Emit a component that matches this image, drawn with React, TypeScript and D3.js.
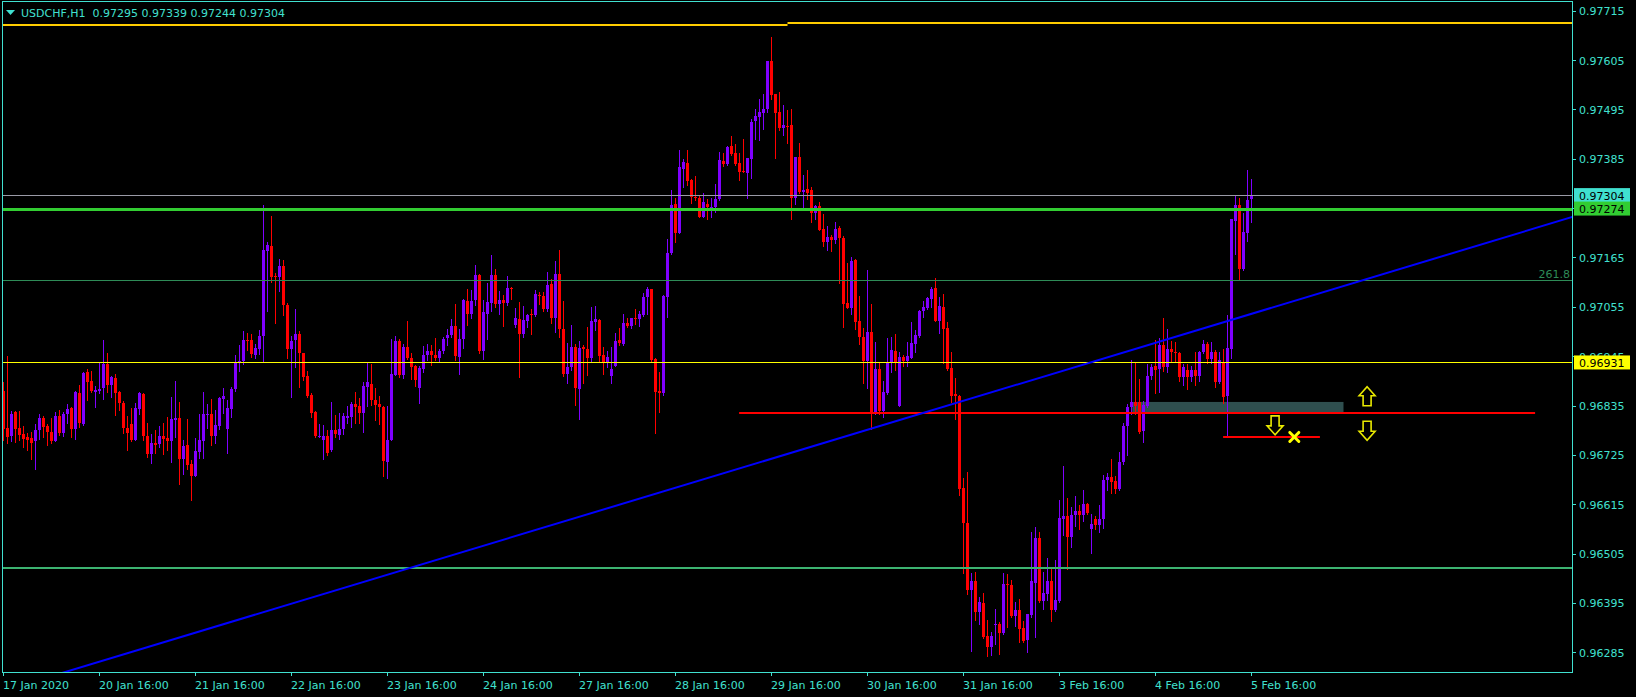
import React from "react";
import * as d3 from "d3";

// ---------- DATA ----------
const SYMBOL = "USDCHF,H1";
const HEADER_OHLC = ["0.97295", "0.97339", "0.97244", "0.97304"];

// hourly candles [open, high, low, close], first bar = 17 Jan 2020 16:00
const candles: [number, number, number, number][] = [
  [0.96867,0.96888,0.96758,0.96782],[0.96785,0.96945,0.96751,0.96765],[0.96768,0.96823,0.96757,0.96817],[0.96820,0.96823,0.96754,0.96783],
  [0.96785,0.96823,0.96759,0.96770],[0.96771,0.96789,0.96743,0.96761],[0.96764,0.96773,0.96737,0.96759],[0.96762,0.96775,0.96715,0.96751],
  [0.96755,0.96794,0.96694,0.96780],[0.96780,0.96817,0.96761,0.96807],[0.96807,0.96811,0.96764,0.96788],[0.96789,0.96794,0.96748,0.96777],
  [0.96777,0.96807,0.96752,0.96757],[0.96757,0.96820,0.96755,0.96811],[0.96811,0.96825,0.96770,0.96774],[0.96773,0.96820,0.96768,0.96817],
  [0.96817,0.96838,0.96797,0.96827],[0.96829,0.96831,0.96764,0.96783],[0.96783,0.96867,0.96761,0.96865],[0.96862,0.96881,0.96788,0.96795],
  [0.96794,0.96910,0.96792,0.96907],[0.96910,0.96916,0.96847,0.96888],[0.96890,0.96911,0.96865,0.96868],[0.96866,0.96878,0.96832,0.96870],
  [0.96868,0.96930,0.96862,0.96872],[0.96873,0.96981,0.96849,0.96927],[0.96927,0.96952,0.96865,0.96880],[0.96880,0.96900,0.96855,0.96898],
  [0.96896,0.96905,0.96814,0.96863],[0.96866,0.96867,0.96826,0.96840],[0.96840,0.96844,0.96774,0.96785],[0.96786,0.96811,0.96737,0.96774],
  [0.96794,0.96829,0.96755,0.96759],[0.96759,0.96840,0.96758,0.96829],[0.96828,0.96865,0.96817,0.96862],[0.96861,0.96862,0.96759,0.96768],
  [0.96768,0.96795,0.96721,0.96728],[0.96728,0.96771,0.96708,0.96751],[0.96752,0.96780,0.96730,0.96748],[0.96749,0.96789,0.96742,0.96768],
  [0.96768,0.96795,0.96728,0.96761],[0.96762,0.96809,0.96737,0.96755],[0.96755,0.96853,0.96710,0.96804],[0.96803,0.96889,0.96765,0.96807],
  [0.96807,0.96843,0.96661,0.96715],[0.96715,0.96758,0.96682,0.96745],[0.96746,0.96804,0.96694,0.96703],[0.96705,0.96713,0.96624,0.96679],
  [0.96679,0.96762,0.96678,0.96733],[0.96731,0.96816,0.96719,0.96758],[0.96757,0.96866,0.96719,0.96816],[0.96814,0.96838,0.96785,0.96817],
  [0.96816,0.96849,0.96748,0.96768],[0.96768,0.96825,0.96752,0.96791],[0.96789,0.96855,0.96783,0.96852],[0.96850,0.96874,0.96819,0.96856],
  [0.96783,0.96847,0.96730,0.96829],[0.96828,0.96877,0.96810,0.96871],[0.96872,0.96948,0.96868,0.96929],[0.96929,0.96971,0.96913,0.96935],
  [0.96935,0.97002,0.96927,0.96982],[0.96982,0.96997,0.96959,0.96980],[0.96982,0.96994,0.96944,0.96950],[0.96948,0.96972,0.96942,0.96963],
  [0.96962,0.97003,0.96950,0.96991],[0.96991,0.97282,0.96935,0.97182],[0.97180,0.97199,0.97046,0.97192],[0.97190,0.97257,0.97111,0.97122],
  [0.97124,0.97130,0.97020,0.97121],[0.97122,0.97161,0.97091,0.97146],[0.97146,0.97159,0.97037,0.97060],[0.97058,0.97064,0.96942,0.96960],
  [0.96960,0.96990,0.96853,0.96978],[0.96980,0.97051,0.96921,0.96994],[0.96994,0.97002,0.96877,0.96951],[0.96951,0.96953,0.96892,0.96898],
  [0.96901,0.96911,0.96853,0.96856],[0.96858,0.96863,0.96810,0.96819],[0.96820,0.96823,0.96765,0.96767],[0.96767,0.96794,0.96765,0.96768],
  [0.96759,0.96791,0.96716,0.96768],[0.96768,0.96780,0.96725,0.96730],[0.96736,0.96843,0.96734,0.96780],[0.96780,0.96813,0.96765,0.96771],
  [0.96770,0.96819,0.96761,0.96782],[0.96782,0.96819,0.96771,0.96811],[0.96807,0.96834,0.96795,0.96811],[0.96810,0.96843,0.96788,0.96838],
  [0.96838,0.96865,0.96797,0.96832],[0.96835,0.96852,0.96797,0.96819],[0.96819,0.96887,0.96776,0.96878],[0.96877,0.96929,0.96834,0.96887],
  [0.96884,0.96927,0.96837,0.96847],[0.96847,0.96875,0.96803,0.96836],[0.96838,0.96856,0.96794,0.96831],[0.96831,0.96833,0.96678,0.96712],
  [0.96709,0.96834,0.96673,0.96759],[0.96759,0.96983,0.96758,0.96905],[0.96904,0.96990,0.96903,0.96978],[0.96979,0.96983,0.96899,0.96904],
  [0.96903,0.96973,0.96896,0.96966],[0.96966,0.97023,0.96938,0.96941],[0.96941,0.96951,0.96895,0.96921],[0.96924,0.96926,0.96878,0.96893],
  [0.96875,0.96924,0.96841,0.96918],[0.96917,0.96967,0.96909,0.96947],[0.96947,0.96972,0.96936,0.96956],[0.96956,0.96970,0.96926,0.96947],
  [0.96947,0.96985,0.96936,0.96941],[0.96941,0.96961,0.96935,0.96956],[0.96956,0.96987,0.96951,0.96984],[0.96986,0.97005,0.96970,0.96993],
  [0.96993,0.97028,0.96988,0.97013],[0.97013,0.97061,0.96936,0.96946],[0.96944,0.97005,0.96905,0.96984],[0.96984,0.97073,0.96964,0.97070],
  [0.97068,0.97094,0.97014,0.97039],[0.97039,0.97092,0.97030,0.97069],[0.97070,0.97148,0.97059,0.97126],[0.97126,0.97129,0.96953,0.96956],
  [0.96957,0.97070,0.96938,0.97043],[0.97040,0.97107,0.96983,0.97065],[0.97064,0.97170,0.97046,0.97126],[0.97126,0.97139,0.97055,0.97062],
  [0.97062,0.97090,0.97039,0.97071],[0.97070,0.97082,0.97012,0.97064],[0.97064,0.97123,0.97059,0.97098],[0.97098,0.97099,0.97072,0.97095],
  [0.97014,0.97052,0.97009,0.97031],[0.97028,0.97065,0.96898,0.96995],[0.96995,0.97057,0.96987,0.97025],[0.97024,0.97039,0.97009,0.97036],
  [0.97039,0.97051,0.96994,0.97037],[0.97037,0.97092,0.97034,0.97083],[0.97081,0.97088,0.97061,0.97080],[0.97079,0.97088,0.97045,0.97051],
  [0.97051,0.97132,0.97046,0.97103],[0.97106,0.97118,0.97018,0.97030],[0.97030,0.97157,0.96999,0.97129],[0.97128,0.97181,0.96988,0.97005],
  [0.97005,0.97068,0.96901,0.96905],[0.96905,0.96975,0.96886,0.96921],[0.96920,0.97014,0.96915,0.96966],[0.96966,0.96972,0.96837,0.96874],
  [0.96872,0.96979,0.96805,0.96964],[0.96966,0.96970,0.96886,0.96960],[0.96961,0.97010,0.96903,0.96941],[0.96941,0.97054,0.96935,0.97023],
  [0.97021,0.97057,0.97003,0.97027],[0.97025,0.97028,0.96932,0.96945],[0.96947,0.96966,0.96905,0.96932],[0.96933,0.96957,0.96921,0.96943],
  [0.96901,0.96966,0.96886,0.96916],[0.96924,0.96996,0.96923,0.96979],[0.96981,0.97008,0.96969,0.96975],[0.96973,0.97039,0.96970,0.97018],
  [0.97020,0.97030,0.97010,0.97012],[0.97012,0.97030,0.97008,0.97029],[0.97030,0.97050,0.97016,0.97028],[0.97028,0.97045,0.97012,0.97040],
  [0.97037,0.97086,0.97034,0.97077],[0.97076,0.97100,0.97039,0.97094],[0.97094,0.97095,0.96933,0.96936],[0.96938,0.96942,0.96774,0.96866],
  [0.96867,0.96910,0.96821,0.96864],[0.96864,0.97081,0.96859,0.97079],[0.97078,0.97206,0.97032,0.97174],[0.97174,0.97315,0.97173,0.97281],
  [0.97284,0.97298,0.97200,0.97220],[0.97220,0.97404,0.97219,0.97367],[0.97363,0.97384,0.97321,0.97377],[0.97375,0.97404,0.97327,0.97336],
  [0.97338,0.97339,0.97286,0.97299],[0.97300,0.97347,0.97292,0.97298],[0.97298,0.97303,0.97255,0.97256],[0.97256,0.97308,0.97255,0.97289],
  [0.97284,0.97295,0.97251,0.97277],[0.97275,0.97298,0.97256,0.97278],[0.97278,0.97329,0.97267,0.97295],[0.97295,0.97399,0.97293,0.97382],
  [0.97381,0.97397,0.97368,0.97374],[0.97374,0.97414,0.97372,0.97411],[0.97413,0.97436,0.97394,0.97396],[0.97397,0.97418,0.97372,0.97374],
  [0.97375,0.97397,0.97338,0.97356],[0.97358,0.97430,0.97355,0.97355],[0.97354,0.97387,0.97298,0.97386],[0.97385,0.97473,0.97343,0.97468],
  [0.97470,0.97496,0.97430,0.97480],[0.97479,0.97518,0.97427,0.97489],[0.97488,0.97529,0.97451,0.97496],[0.97496,0.97604,0.97490,0.97603],
  [0.97603,0.97656,0.97519,0.97528],[0.97529,0.97530,0.97387,0.97486],[0.97489,0.97534,0.97449,0.97454],[0.97454,0.97505,0.97439,0.97460],
  [0.97458,0.97494,0.97421,0.97456],[0.97460,0.97496,0.97251,0.97298],[0.97298,0.97390,0.97285,0.97389],[0.97389,0.97420,0.97309,0.97312],
  [0.97311,0.97348,0.97278,0.97315],[0.97317,0.97360,0.97295,0.97308],[0.97315,0.97321,0.97245,0.97265],[0.97265,0.97281,0.97251,0.97280],
  [0.97280,0.97289,0.97226,0.97226],[0.97228,0.97262,0.97190,0.97200],[0.97200,0.97235,0.97182,0.97210],[0.97211,0.97216,0.97179,0.97204],
  [0.97204,0.97244,0.97197,0.97228],[0.97230,0.97235,0.97107,0.97208],[0.97208,0.97213,0.97009,0.97061],[0.97063,0.97152,0.97052,0.97052],
  [0.97052,0.97165,0.97040,0.97157],[0.97159,0.97162,0.97005,0.97022],[0.97024,0.97079,0.96972,0.96988],[0.96988,0.97008,0.96886,0.96934],
  [0.96934,0.97136,0.96873,0.96999],[0.96999,0.97061,0.96783,0.96818],[0.96818,0.96977,0.96816,0.96916],[0.96916,0.96930,0.96816,0.96822],
  [0.96823,0.96890,0.96809,0.96865],[0.96862,0.96985,0.96861,0.96929],[0.96929,0.96987,0.96910,0.96959],[0.96956,0.96994,0.96914,0.96929],
  [0.96834,0.96954,0.96834,0.96944],[0.96943,0.96947,0.96924,0.96934],[0.96934,0.96977,0.96922,0.96945],[0.96942,0.97021,0.96940,0.96974],
  [0.96973,0.97003,0.96954,0.96993],[0.96990,0.97048,0.96988,0.97046],[0.97046,0.97067,0.97033,0.97055],[0.97053,0.97078,0.97051,0.97075],
  [0.97073,0.97100,0.97055,0.97095],[0.97098,0.97119,0.97023,0.97023],[0.97023,0.97078,0.96997,0.97057],[0.97055,0.97084,0.96929,0.97005],
  [0.97008,0.97021,0.96914,0.96916],[0.96919,0.96954,0.96843,0.96856],[0.96860,0.96896,0.96804,0.96856],[0.96857,0.96858,0.96636,0.96648],
  [0.96651,0.96673,0.96462,0.96574],[0.96574,0.96687,0.96416,0.96424],[0.96424,0.96461,0.96288,0.96444],[0.96444,0.96464,0.96357,0.96375],
  [0.96375,0.96409,0.96349,0.96397],[0.96394,0.96418,0.96317,0.96318],[0.96321,0.96357,0.96276,0.96296],[0.96296,0.96330,0.96278,0.96321],
  [0.96346,0.96382,0.96303,0.96349],[0.96349,0.96352,0.96282,0.96327],[0.96327,0.96461,0.96325,0.96437],[0.96437,0.96459,0.96342,0.96435],
  [0.96435,0.96447,0.96363,0.96367],[0.96367,0.96397,0.96343,0.96379],[0.96379,0.96404,0.96308,0.96337],[0.96339,0.96354,0.96309,0.96311],
  [0.96312,0.96371,0.96285,0.96370],[0.96369,0.96553,0.96364,0.96444],[0.96440,0.96565,0.96320,0.96540],[0.96540,0.96554,0.96398,0.96400],
  [0.96400,0.96464,0.96382,0.96418],[0.96416,0.96495,0.96401,0.96444],[0.96444,0.96474,0.96355,0.96379],[0.96379,0.96490,0.96377,0.96401],
  [0.96400,0.96624,0.96397,0.96584],[0.96583,0.96700,0.96547,0.96588],[0.96588,0.96629,0.96470,0.96542],[0.96541,0.96608,0.96520,0.96590],
  [0.96590,0.96633,0.96566,0.96600],[0.96600,0.96614,0.96560,0.96590],[0.96590,0.96646,0.96578,0.96615],[0.96615,0.96617,0.96594,0.96596],
  [0.96559,0.96594,0.96507,0.96572],[0.96582,0.96589,0.96559,0.96569],[0.96569,0.96614,0.96554,0.96582],[0.96581,0.96681,0.96563,0.96670],
  [0.96670,0.96684,0.96646,0.96676],[0.96675,0.96716,0.96639,0.96665],[0.96666,0.96678,0.96639,0.96649],[0.96649,0.96731,0.96646,0.96709],
  [0.96709,0.96796,0.96704,0.96789],[0.96789,0.96838,0.96725,0.96832],[0.96831,0.96936,0.96817,0.96843],[0.96843,0.96932,0.96817,0.96835],
  [0.96843,0.96895,0.96774,0.96776],[0.96779,0.96844,0.96753,0.96837],[0.96835,0.96927,0.96832,0.96900],[0.96900,0.96927,0.96895,0.96921],
  [0.96923,0.96981,0.96862,0.96915],[0.96917,0.96985,0.96865,0.96970],[0.96969,0.97030,0.96911,0.96920],[0.96920,0.97006,0.96910,0.96960],
  [0.96961,0.96979,0.96933,0.96954],[0.96955,0.96976,0.96935,0.96951],[0.96953,0.96954,0.96890,0.96899],[0.96899,0.96927,0.96880,0.96920],
  [0.96914,0.96927,0.96871,0.96899],[0.96898,0.96924,0.96889,0.96915],[0.96915,0.96954,0.96880,0.96900],[0.96900,0.96957,0.96890,0.96955],
  [0.96955,0.96982,0.96951,0.96972],[0.96973,0.96976,0.96929,0.96938],[0.96938,0.96976,0.96929,0.96955],[0.96955,0.96958,0.96877,0.96888],
  [0.96888,0.96955,0.96886,0.96936],[0.96930,0.96961,0.96841,0.96854],[0.96856,0.97036,0.96765,0.96963],[0.96961,0.97251,0.96941,0.97250],
  [0.97247,0.97303,0.97172,0.97281],[0.97281,0.97297,0.97116,0.97140],[0.97140,0.97265,0.97138,0.97222],[0.97220,0.97360,0.97202,0.97294],
  [0.97295,0.97339,0.97244,0.97304],
];

const xTickBars = [0, 24, 48, 72, 96, 120, 144, 168, 192, 216, 240, 264, 288, 312];
const xTickLabels = [
  "17 Jan 2020", "20 Jan 16:00", "21 Jan 16:00", "22 Jan 16:00", "23 Jan 16:00", "24 Jan 16:00",
  "27 Jan 16:00", "28 Jan 16:00", "29 Jan 16:00", "30 Jan 16:00", "31 Jan 16:00", "3 Feb 16:00",
  "4 Feb 16:00", "5 Feb 16:00",
];
const yTickValues = [0.97715, 0.97605, 0.97495, 0.97385, 0.97275, 0.97165, 0.97055, 0.96945, 0.96835, 0.96725, 0.96615, 0.96505, 0.96395, 0.96285];

// horizontal levels / objects
const BID = 0.97304;
const GREEN_LEVEL = 0.97274;
const FIB_LEVEL = 0.97115;
const FIB_LABEL = "261.8";
const YELLOW_LEVEL = 0.96931;
const LOWER_LEVEL = 0.96473;
const goldSegments = [
  { fromBar: -1, toBar: 196, price: 0.97683 },
  { fromBar: 196, toBar: 400, price: 0.97688 },
];
const redLine = { fromBar: 183.9, toBar: 382.9, price: 0.96818 };
const redShort = { fromBar: 304.9, toBar: 329.1, price: 0.96765 };
const zone = { fromBar: 282.2, toBar: 335, top: 0.96843, bottom: 0.96820 };
const trendAnchors: [number, number][] = [[15.4, 0.96241], [392.1, 0.97255]];
const upArrows = [{ bar: 340.9, price: 0.96877 }];
const downArrows = [{ bar: 340.9, price: 0.968 }, { bar: 317.9, price: 0.96812 }];
const crossMark = { bar: 322.7, price: 0.96765 };

// ---------- CHART ----------
const W = 1636;
const H = 697;
const PL = 2, PR = 1572, PT = 1, PB = 672;
const AXIS = "#40e0d0";
const BULL = "#8000ff";
const BEAR = "#ff0000";
const FONT = "'DejaVu Sans', Verdana, sans-serif";

export default function App() {
  const x = d3.scaleLinear().domain([0, 312]).range([3.5, 1251.5]);
  const y = d3.scaleLinear().domain([0.96285, 0.97715]).range([652.3, 10.7]);

  const tSlope = (trendAnchors[1][1] - trendAnchors[0][1]) / (trendAnchors[1][0] - trendAnchors[0][0]);
  const trendAt = (b: number) => trendAnchors[0][1] + (b - trendAnchors[0][0]) * tSlope;
  const trendPts: [number, number][] = [-20, 420].map((b) => [x(b), y(trendAt(b))]);
  const trendPath = d3.line()(trendPts) || "";

  const upArrowPath = (cx: number, top: number) =>
    `M${cx},${top} L${cx + 8},${top + 9} L${cx + 4},${top + 9} L${cx + 4},${top + 19} L${cx - 4},${top + 19} L${cx - 4},${top + 9} L${cx - 8},${top + 9} Z`;
  const downArrowPath = (cx: number, top: number) =>
    `M${cx - 4},${top} L${cx + 4},${top} L${cx + 4},${top + 10} L${cx + 8},${top + 10} L${cx},${top + 19} L${cx - 8},${top + 10} L${cx - 4},${top + 10} Z`;

  const hLine = (price: number, color: string, width: number, key: string, x1 = PL, x2 = PR) => (
    <line key={key} x1={x1} x2={x2} y1={Math.round(y(price)) + (width % 2 ? 0.5 : 0)} y2={Math.round(y(price)) + (width % 2 ? 0.5 : 0)} stroke={color} strokeWidth={width} />
  );

  const priceBox = (price: number, bg: string, key: string) => {
    const cy = y(price);
    return (
      <g key={key}>
        <rect x={1574} y={cy - 7} width={56} height={14} fill={bg} />
        <text x={1579} y={cy + 4.5} fontSize={11} fontFamily={FONT} fill="#000">{price.toFixed(5)}</text>
      </g>
    );
  };

  const cx = crossMark;
  const crossX = x(cx.bar), crossY = y(cx.price);

  return (
    <svg width={W} height={H} style={{ position: "absolute", left: 0, top: 0, background: "#000", display: "block" }}>
      <rect x={0} y={0} width={W} height={H} fill="#000" />
      <defs>
        <clipPath id="plot">
          <rect x={PL + 1} y={PT + 1} width={PR - PL - 1} height={PB - PT - 1} />
        </clipPath>
      </defs>

      <g clipPath="url(#plot)">
        {/* zone rectangle (background) */}
        <rect x={x(zone.fromBar)} y={y(zone.top)} width={x(zone.toBar) - x(zone.fromBar)} height={y(zone.bottom) - y(zone.top)} fill="#2f4f4f" />

        {/* candles */}
        {candles.map(([o, h, l, c], i) => {
          const cxp = x(i);
          const col = c >= o ? BULL : BEAR;
          const top = Math.round(y(Math.max(o, c)));
          const bot = Math.round(y(Math.min(o, c)));
          return (
            <g key={i}>
              <line x1={cxp} x2={cxp} y1={Math.round(y(h))} y2={Math.round(y(l)) + 1} stroke={col} strokeWidth={1} />
              <rect x={cxp - 1.5} y={top} width={3} height={Math.max(1, bot - top)} fill={col} />
            </g>
          );
        })}

        {/* levels */}
        {goldSegments.map((s, k) => (
          <line key={"g" + k} x1={Math.max(PL, x(s.fromBar))} x2={Math.min(PR, x(s.toBar))} y1={Math.round(y(s.price))} y2={Math.round(y(s.price))} stroke="#ffcc00" strokeWidth={2} />
        ))}
        {hLine(LOWER_LEVEL, "#3cb371", 2, "low")}
        {hLine(FIB_LEVEL, "#2e8b57", 1, "fib")}
        {hLine(YELLOW_LEVEL, "#ffff00", 1, "yel")}
        {hLine(BID, "#9a9aa6", 1, "bid")}
        {hLine(GREEN_LEVEL, "#32cd32", 3, "grn")}
        {hLine(redLine.price, "#ff0000", 2, "red", x(redLine.fromBar), x(redLine.toBar))}
        {hLine(redShort.price, "#ff0000", 2, "red2", x(redShort.fromBar), x(redShort.toBar))}

        {/* trend line */}
        <path d={trendPath} stroke="#0000ff" strokeWidth={2} fill="none" />

        {/* arrows */}
        {upArrows.map((a, k) => (
          <path key={"u" + k} d={upArrowPath(x(a.bar), y(a.price))} fill="#000" stroke="#e8e800" strokeWidth={1.6} />
        ))}
        {downArrows.map((a, k) => (
          <path key={"d" + k} d={downArrowPath(x(a.bar), y(a.price))} fill="#000" stroke="#e8e800" strokeWidth={1.6} />
        ))}
        <g stroke="#ffff00" strokeWidth={3} strokeLinecap="round">
          <line x1={crossX - 4.5} y1={crossY - 4.5} x2={crossX + 4.5} y2={crossY + 4.5} />
          <line x1={crossX - 4.5} y1={crossY + 4.5} x2={crossX + 4.5} y2={crossY - 4.5} />
        </g>

        <text x={1570} y={Math.round(y(FIB_LEVEL)) - 2} textAnchor="end" fontSize={11} fontFamily={FONT} fill="#2e8b57">{FIB_LABEL}</text>
      </g>

      {/* frame */}
      <rect x={PL + 0.5} y={PT + 0.5} width={PR - PL} height={PB - PT} fill="none" stroke={AXIS} strokeWidth={1} />

      {/* header */}
      <polygon points="6,10 15,10 10.5,15" fill={AXIS} />
      <text x={21} y={17} fontSize={11} fontFamily={FONT} fill={AXIS} style={{ whiteSpace: "pre" }}>
        {SYMBOL + "  " + HEADER_OHLC.join(" ")}
      </text>

      {/* y axis */}
      {yTickValues.map((v) => (
        <g key={v}>
          <line x1={PR} x2={PR + 4} y1={Math.round(y(v)) + 0.5} y2={Math.round(y(v)) + 0.5} stroke={AXIS} />
          <text x={1579} y={y(v) + 4.5} fontSize={11} fontFamily={FONT} fill={AXIS}>{v.toFixed(5)}</text>
        </g>
      ))}
      {priceBox(BID, "#40e0d0", "pb1")}
      {priceBox(GREEN_LEVEL, "#32cd32", "pb2")}
      {priceBox(YELLOW_LEVEL, "#ffff00", "pb3")}

      {/* x axis */}
      {xTickBars.map((b, k) => (
        <g key={b}>
          <line x1={Math.floor(x(b)) + 0.5} x2={Math.floor(x(b)) + 0.5} y1={PB} y2={PB + 4} stroke={AXIS} />
          <text x={Math.floor(x(b))} y={689} fontSize={11} fontFamily={FONT} fill={AXIS}>{xTickLabels[k]}</text>
        </g>
      ))}
    </svg>
  );
}
